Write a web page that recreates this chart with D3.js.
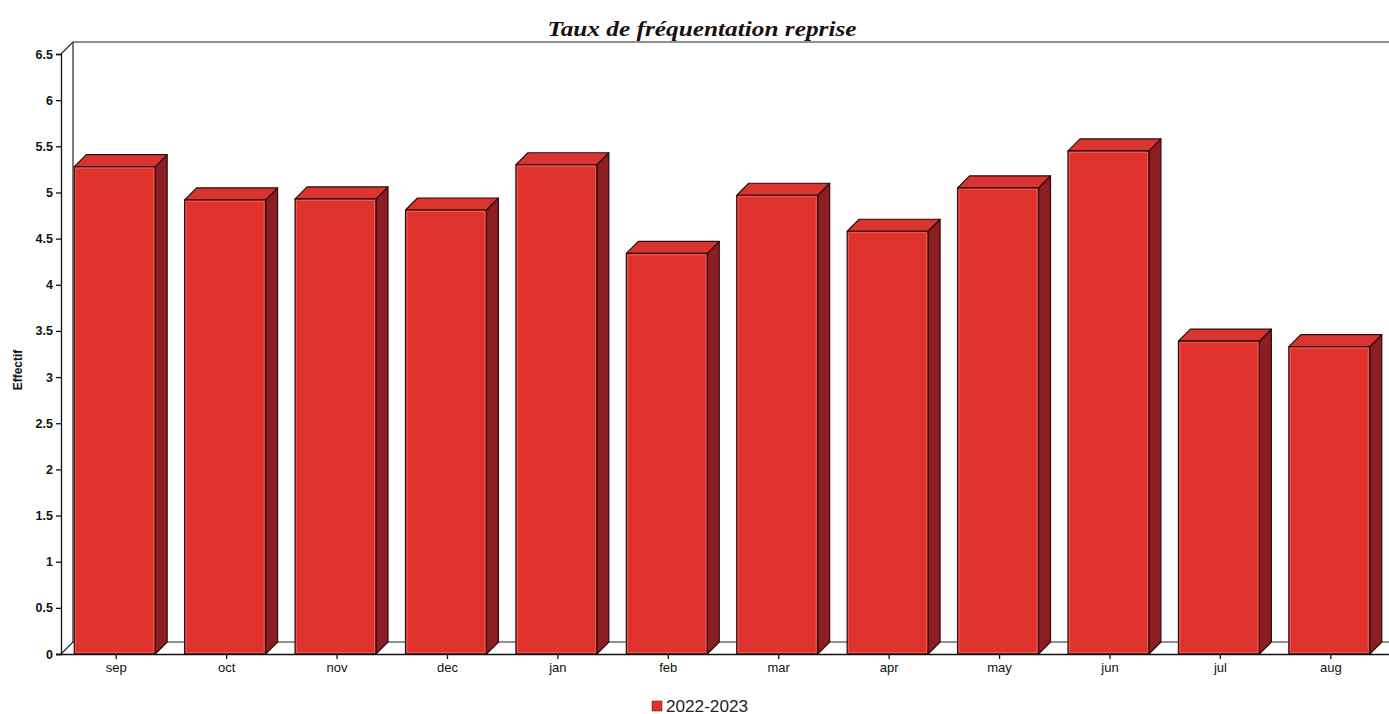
<!DOCTYPE html>
<html>
<head>
<meta charset="utf-8">
<script src="https://cdn.jsdelivr.net/npm/d3@7"></script>
<style>
  body { margin: 0; background: #fff; }
  svg { display: block; }
</style>
</head>
<body>
<svg id="chart"></svg>
<script>
// data
var months = ["sep", "oct", "nov", "dec", "jan", "feb", "mar", "apr", "may", "jun", "jul", "aug"];
var values = [5.28, 4.92, 4.93, 4.81, 5.30, 4.34, 4.97, 4.58, 5.05, 5.45, 3.39, 3.33];
var yTicks = [0, 0.5, 1, 1.5, 2, 2.5, 3, 3.5, 4, 4.5, 5, 5.5, 6, 6.5];
var seriesName = "2022-2023";
var titleText = "Taux de fréquentation reprise";
var yLabel = "Effectif";

function drawChart(svg) {
    var width = 1389,
        height = 714,
        left = 61,
        right = 1386,
        top = 54,
        bottom = 654,
        depth = 12,         // 3d offset
        barFrac = 0.733,
        front = "#df322c",
        topCol = "#d93430",
        sideCol = "#8c1d23",
        edge = "#2b0d0d";

    var canvas = d3.select(svg).attr("width", width).attr("height", height);

    var x = d3.scaleBand().domain(months).range([left, right]);
    var y = d3.scaleLinear().domain([0, 6.5]).range([bottom, top]);

    // back wall + floor
    var g0 = canvas.append("g").attr("fill", "none").attr("stroke", "#222").attr("stroke-width", 1.2);
    g0.append("path")
        .attr("d", "M" + left + "," + y(6.5) + "L" + (left + depth) + "," + (y(6.5) - depth) + "L" + width + "," + (y(6.5) - depth));
    g0.append("line")
        .attr("x1", left + depth).attr("x2", left + depth)
        .attr("y1", y(6.5) - depth).attr("y2", y(0) - depth);
    g0.append("path")
        .attr("d", "M" + left + "," + y(0) + "L" + (left + depth) + "," + (y(0) - depth) + "L" + width + "," + (y(0) - depth));

    // bars
    var bars = canvas.selectAll(".bar").data(months.map(function(m, i) {
        var bw = x.bandwidth() * barFrac;
        var x0 = x(m) + x.bandwidth() / 2 - bw / 2 - 1.5;
        return { month: m, x0: x0, x1: x0 + bw, yTop: y(values[i]), yBot: y(0) };
    })).enter().append("g").attr("class", "bar")
        .attr("stroke", edge).attr("stroke-width", 1.2).attr("stroke-linejoin", "round");

    bars.append("path")
        .attr("fill", sideCol)
        .attr("d", function(d) {
            return "M" + d.x1 + "," + d.yBot + "L" + (d.x1 + depth) + "," + (d.yBot - depth) +
                "L" + (d.x1 + depth) + "," + (d.yTop - depth) + "L" + d.x1 + "," + d.yTop + "Z";
        });
    bars.append("path")
        .attr("fill", topCol)
        .attr("d", function(d) {
            return "M" + d.x0 + "," + d.yTop + "L" + (d.x0 + depth) + "," + (d.yTop - depth) +
                "L" + (d.x1 + depth) + "," + (d.yTop - depth) + "L" + d.x1 + "," + d.yTop + "Z";
        });
    bars.append("rect")
        .attr("fill", front)
        .attr("x", function(d) { return d.x0; })
        .attr("y", function(d) { return d.yTop; })
        .attr("width", function(d) { return d.x1 - d.x0; })
        .attr("height", function(d) { return d.yBot - d.yTop; });
    // faint light edge inside the front face
    bars.append("rect")
        .attr("fill", "none").attr("stroke", "#f07a6a").attr("stroke-width", 1)
        .attr("x", function(d) { return d.x0 + 1.5; })
        .attr("y", function(d) { return d.yTop + 1.5; })
        .attr("width", function(d) { return d.x1 - d.x0 - 3; })
        .attr("height", function(d) { return d.yBot - d.yTop - 3; })
        .attr("opacity", 0.6);

    // axes
    var yAxis = canvas.append("g")
        .attr("transform", "translate(" + left + ",0)")
        .call(d3.axisLeft(y).tickValues(yTicks).tickSize(5).tickPadding(3).tickFormat(d3.format("~g")));
    yAxis.select(".domain").attr("stroke", "#111").attr("stroke-width", 1.3);
    yAxis.selectAll(".tick line").attr("stroke", "#111").attr("stroke-width", 1.3);
    yAxis.selectAll("text")
        .attr("font-family", "Liberation Sans, Arial, sans-serif")
        .attr("font-weight", "bold").attr("font-size", 12.5).attr("fill", "#111");

    var xAxis = canvas.append("g")
        .attr("transform", "translate(0," + bottom + ")")
        .call(d3.axisBottom(x).tickSize(5).tickPadding(4).tickSizeOuter(0));
    xAxis.select(".domain").attr("stroke", "#111").attr("stroke-width", 1.3)
        .attr("d", "M" + (left - 5) + ",0.5H" + width);
    xAxis.selectAll(".tick line").attr("stroke", "#111").attr("stroke-width", 1.3);
    xAxis.selectAll("text")
        .attr("font-family", "Liberation Sans, Arial, sans-serif")
        .attr("font-size", 13).attr("fill", "#111");

    // title
    canvas.append("text")
        .attr("x", 702).attr("y", 36)
        .attr("text-anchor", "middle")
        .attr("font-family", "Liberation Serif, Times New Roman, serif")
        .attr("font-style", "italic").attr("font-weight", "bold")
        .attr("font-size", 22).attr("fill", "#1a1010")
        .attr("textLength", 309).attr("lengthAdjust", "spacingAndGlyphs")
        .text(titleText);

    // y label
    canvas.append("text")
        .attr("transform", "translate(22,370) rotate(-90)")
        .attr("text-anchor", "middle")
        .attr("font-family", "Liberation Sans, Arial, sans-serif")
        .attr("font-weight", "bold").attr("font-size", 12).attr("fill", "#111")
        .text(yLabel);

    // legend
    var lg = canvas.append("g").attr("transform", "translate(652,701)");
    lg.append("rect").attr("width", 10).attr("height", 10)
        .attr("fill", front).attr("stroke", "#7a1a1a").attr("stroke-width", 0.6);
    lg.append("text").attr("x", 14).attr("y", 10.5)
        .attr("font-family", "Liberation Sans, Arial, sans-serif")
        .attr("font-size", 16).attr("fill", "#222")
        .attr("textLength", 82).attr("lengthAdjust", "spacingAndGlyphs")
        .text(seriesName);
}

drawChart(document.getElementById("chart"));
</script>
</body>
</html>
